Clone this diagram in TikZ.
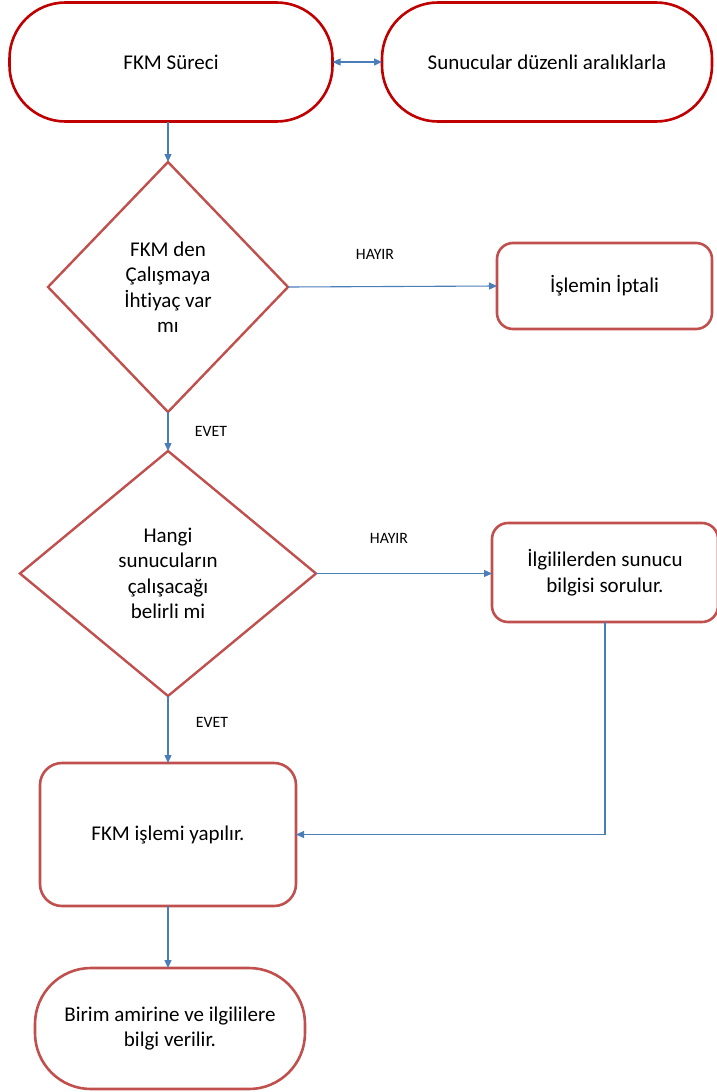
\documentclass[tikz,border=0pt]{standalone}
\usepackage{fontspec}
\setmainfont[Ligatures={NoCommon}]{Carlito}
\usetikzlibrary{shapes.geometric,arrows.meta}
\definecolor{darkred}{HTML}{C00000}
\definecolor{boxred}{HTML}{C0504D}
\definecolor{conn}{HTML}{4A7EBB}
\newcommand{\maintext}{\fontsize{21}{25.5}\selectfont}
\newcommand{\labeltext}{\fontsize{15.8}{18}\selectfont}
\tikzset{
  base/.style={inner sep=0pt, outer sep=0pt, align=center, font=\maintext, text=black},
  topterm/.style={base, rectangle, rounded corners=56pt, draw=darkred, line width=2.6pt},
  term/.style={base, rectangle, rounded corners=56pt, draw=boxred, line width=2.6pt},
  procbox/.style={base, rectangle, rounded corners=16pt, draw=boxred, line width=2.6pt},
  decision/.style={base, diamond, draw=boxred, line width=2.4pt},
  conn/.style={draw=conn, line width=1.1pt, -{Triangle[length=8pt,width=7pt]}},
  biconn/.style={draw=conn, line width=1.1pt, {Triangle[length=8pt,width=7pt]}-{Triangle[length=8pt,width=7pt]}},
  lbl/.style={inner sep=0pt, font=\labeltext, text=black}
}
\begin{document}
\begin{tikzpicture}[x=1pt, y=-1pt]
\useasboundingbox (0,0) rectangle (716,1092);
% nodes
\node[topterm, minimum width=323pt, minimum height=119pt] (fkm) at (171,62) {FKM Süreci};
\node[topterm, minimum width=330pt, minimum height=119pt] (sun) at (547,62) {Sunucular düzenli aralıklarla};
\node[decision, minimum width=240pt, minimum height=250pt] (d1) at (168,287) {FKM den\\Çalışmaya\\İhtiyaç var\\mı};
\node[procbox, minimum width=215pt, minimum height=86pt] (ipt) at (604.5,286) {İşlemin İptali};
\node[decision, minimum width=296pt, minimum height=245pt] (d2) at (168,573.5) {Hangi\\sunucuların\\çalışacağı\\belirli mi};
\node[procbox, minimum width=226pt, minimum height=99pt] (ilg) at (605,572.5) {İlgililerden sunucu\\bilgisi sorulur.};
\node[procbox, rounded corners=22pt, minimum width=256pt, minimum height=143pt] (yap) at (168,834.5) {FKM işlemi yapılır.};
\node[term, minimum width=270pt, minimum height=121pt] (end) at (170,1028.5) {Birim amirine ve ilgililere\\bilgi verilir.};
% labels
\node[lbl] (h1) at (375,254) {HAYIR};
\node[lbl] (h2) at (389,538) {HAYIR};
\node[lbl] (e1) at (211,431) {EVET};
\node[lbl] (e2) at (212,722) {EVET};
% connectors
\draw[biconn] (fkm.east) -- (sun.west);
\draw[conn] (fkm.south -| d1.north) -- (d1.north);
\draw[conn] (d1.east) -- (ipt.west);
\draw[conn] (d1.south) -- (d2.north);
\draw[conn] (d2.east) -- (ilg.west |- d2.east);
\draw[conn] (d2.south) -- (yap.north);
\draw[conn] (ilg.south) |- (yap.east);
\draw[conn] (yap.south) -- (yap.south |- end.north);
\end{tikzpicture}
\end{document}
